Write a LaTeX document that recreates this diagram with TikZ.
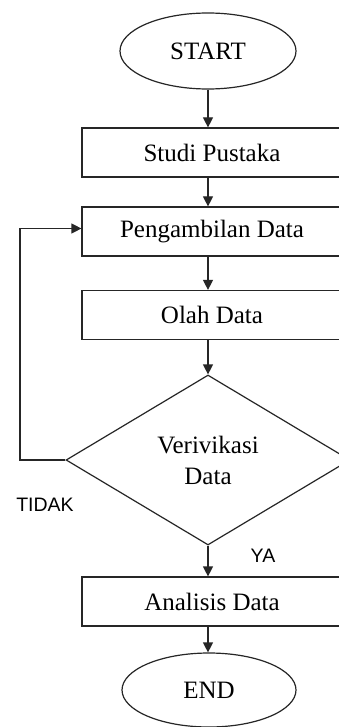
\documentclass[tikz,border=0pt]{standalone}
\usepackage{fontspec}
\setmainfont{Liberation Serif}
\newfontfamily\labelfont{Liberation Sans}
\usetikzlibrary{shapes.geometric,arrows.meta}
\tikzset{
  base/.style={draw=black!85, line width=1.2pt, inner sep=0pt, font=\fontsize{25}{31}\selectfont, align=center},
  term/.style={base, ellipse, minimum width=176pt, minimum height=76pt},
  procbox/.style={base, rectangle, minimum width=260pt, minimum height=49pt},
  decide/.style={base, diamond, minimum width=284pt, minimum height=170pt, aspect=1.67},
  conn/.style={draw=black!85, line width=1.2pt, -{Triangle[length=10pt,width=10pt]}},
  lbl/.style={inner sep=0pt, font=\labelfont\fontsize{19.5}{22}\selectfont}
}
\begin{document}
\begin{tikzpicture}[x=1pt,y=-1pt]
\useasboundingbox (0,0) rectangle (339,727);
\clip (0,0) rectangle (339,727);
\fill[white] (0,0) rectangle (339,727);
\node[term] (start) at (208,51) {START};
\node[procbox] (studi) at (212,152.5) {Studi Pustaka};
\node[procbox] (ambil) at (212,231.5) {Pengambilan Data};
\node[procbox] (olah) at (212,315) {Olah Data};
\node[decide] (dia) at (208,460) {Verivikasi\\Data};
\node[procbox] (anal) at (212,601.5) {Analisis Data};
\node[term, minimum width=174pt, minimum height=74pt] (end) at (209,690) {END};
\coordinate (loopx) at (20,0);
\node[lbl] (tidak) at (45,505) {TIDAK};
\node[lbl] (ya) at (263,556) {YA};
\draw[conn] (start.south) -- (studi.north -| start.south);
\draw[conn] (studi.south -| start.south) -- (ambil.north -| start.south);
\draw[conn] (ambil.south -| start.south) -- (olah.north -| start.south);
\draw[conn] (olah.south -| start.south) -- (dia.north);
\draw[conn] (dia.south) -- (anal.north -| dia.south);
\draw[conn] (anal.south -| dia.south) -- (end.north -| dia.south);
\draw[conn] (dia.west) -- (dia.west -| loopx) |- ([yshift=3pt]ambil.west);
\end{tikzpicture}
\end{document}
